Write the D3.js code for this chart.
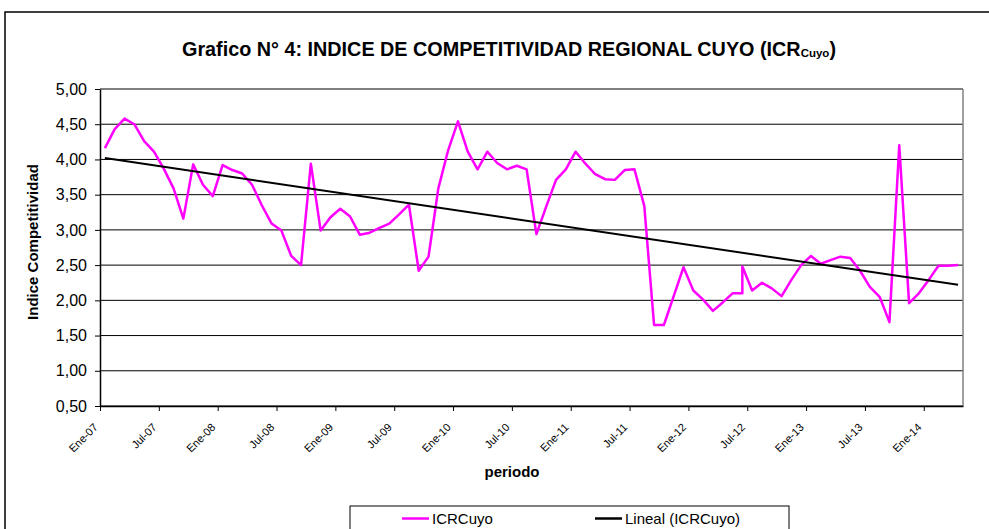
<!DOCTYPE html>
<html>
<head>
<meta charset="utf-8">
<script src="https://cdn.jsdelivr.net/npm/d3@7"></script>
<style>
body { margin: 0; background: #fff; }
svg { display: block; font-family: "Liberation Sans", Arial, sans-serif; }
</style>
</head>
<body>
<div class="chart-cuyo"></div>
<script>
// monthly periods (Jun-12 appears twice in the source series)
const periods = [
'Ene-07','Feb-07','Mar-07','Abr-07','May-07','Jun-07','Jul-07','Ago-07','Sep-07','Oct-07','Nov-07','Dic-07',
'Ene-08','Feb-08','Mar-08','Abr-08','May-08','Jun-08','Jul-08','Ago-08','Sep-08','Oct-08','Nov-08','Dic-08',
'Ene-09','Feb-09','Mar-09','Abr-09','May-09','Jun-09','Jul-09','Ago-09','Sep-09','Oct-09','Nov-09','Dic-09',
'Ene-10','Feb-10','Mar-10','Abr-10','May-10','Jun-10','Jul-10','Ago-10','Sep-10','Oct-10','Nov-10','Dic-10',
'Ene-11','Feb-11','Mar-11','Abr-11','May-11','Jun-11','Jul-11','Ago-11','Sep-11','Oct-11','Nov-11','Dic-11',
'Ene-12','Feb-12','Mar-12','Abr-12','May-12','Jun-12','Jun-12','Jul-12','Ago-12','Sep-12','Oct-12','Nov-12','Dic-12',
'Ene-13','Feb-13','Mar-13','Abr-13','May-13','Jun-13','Jul-13','Ago-13','Sep-13','Oct-13','Nov-13','Dic-13',
'Ene-14','Feb-14','Mar-14','Abr-14'
];

const icrCuyo = [
4.16, 4.43, 4.58, 4.50, 4.26, 4.11, 3.87, 3.59, 3.16, 3.93, 3.64, 3.48,
3.92, 3.85, 3.80, 3.64, 3.35, 3.09, 2.99, 2.63, 2.50, 3.94, 2.99, 3.18,
3.30, 3.19, 2.93, 2.96, 3.03, 3.09, 3.22, 3.36, 2.42, 2.62, 3.59, 4.13,
4.54, 4.11, 3.86, 4.11, 3.95, 3.86, 3.91, 3.86, 2.94, 3.33, 3.71, 3.86,
4.11, 3.94, 3.79, 3.72, 3.71, 3.85, 3.86, 3.34, 1.65, 1.65, 2.06, 2.47,
2.14, 2.01, 1.85, 1.97, 2.10, 2.10, 2.48, 2.14, 2.25, 2.17, 2.06, 2.29, 2.50,
2.63, 2.52, 2.57, 2.62, 2.60, 2.42, 2.19, 2.05, 1.69, 4.20, 1.96, 2.10,
2.29, 2.49, 2.49, 2.50
];

// linear trend, value at first and last period
const trendValues = [4.02, 2.22];

const xTickLabels = ['Ene-07','Jul-07','Ene-08','Jul-08','Ene-09','Jul-09','Ene-10','Jul-10',
  'Ene-11','Jul-11','Ene-12','Jul-12','Ene-13','Jul-13','Ene-14'];
const yTicks = [0.5, 1, 1.5, 2, 2.5, 3, 3.5, 4, 4.5, 5];
const seriesNames = ['ICRCuyo', 'Lineal (ICRCuyo)'];

const monthNames = ['Ene','Feb','Mar','Abr','May','Jun','Jul','Ago','Sep','Oct','Nov','Dic'];
const monthIndex = p => {
  const [m, y] = p.split('-');
  return (+y - 7) * 12 + monthNames.indexOf(m);
};

const data = periods.map((p, i) => ({m: monthIndex(p), value: icrCuyo[i]}));

const width = 989, height = 529;
const plot = {left: 100, right: 963, top: 89, bottom: 406};

let svg = d3.select('.chart-cuyo')
  .append('svg')
    .attr('width', width)
    .attr('height', height);

// outer chart border
svg.append('rect')
  .attr('x', 5).attr('y', 12)
  .attr('width', 1000).attr('height', 600)
  .attr('fill', '#fff')
  .attr('stroke', '#000')
  .attr('stroke-width', 1.5);

let xScale = d3.scaleLinear()
  .domain([0, d3.max(data, d => d.m) + 1])
  .range([plot.left, plot.right]);
let yScale = d3.scaleLinear()
  .domain([0.5, 5])
  .range([plot.bottom, plot.top]);

const fmt = d3.formatLocale({decimal: ',', thousands: '.', grouping: [3], currency: ['$', '']}).format('.2f');

// gridlines
svg.append('g')
  .selectAll('line')
  .data(yTicks)
  .join('line')
    .attr('x1', plot.left).attr('x2', plot.right)
    .attr('y1', d => yScale(d)).attr('y2', d => yScale(d))
    .attr('stroke', '#000')
    .attr('stroke-width', 1);

// right plot border
svg.append('line')
  .attr('x1', plot.right).attr('x2', plot.right)
  .attr('y1', plot.top).attr('y2', plot.bottom)
  .attr('stroke', '#808080')
  .attr('stroke-width', 1.5);

let yAxis = g => g
  .attr('transform', `translate(${plot.left},0)`)
  .call(d3.axisLeft(yScale).tickValues(yTicks).tickFormat(fmt).tickSize(5).tickSizeOuter(0))
  .call(g => g.select('.domain').attr('stroke', '#000').attr('stroke-width', 1.5))
  .call(g => g.selectAll('.tick line').attr('stroke', '#000'))
  .call(g => g.selectAll('text')
    .attr('x', -13)
    .attr('fill', '#000')
    .style('font-size', '16px')
    .style('font-family', '"Liberation Sans", Arial, sans-serif'));

let xAxis = g => g
  .attr('transform', `translate(0,${plot.bottom})`)
  .call(d3.axisBottom(xScale)
    .tickValues(xTickLabels.map((d, i) => i * 6))
    .tickFormat((d, i) => xTickLabels[i])
    .tickSize(5).tickSizeOuter(0))
  .call(g => g.select('.domain').attr('stroke', '#000').attr('stroke-width', 1.5))
  .call(g => g.selectAll('.tick line').attr('stroke', '#000'))
  .call(g => g.selectAll('text')
    .attr('x', 0).attr('y', 0).attr('dy', null)
    .attr('transform', 'translate(-2,22) rotate(-45)')
    .style('text-anchor', 'end')
    .attr('fill', '#000')
    .style('font-size', '11px')
    .style('font-family', '"Liberation Sans", Arial, sans-serif'));

svg.append('g').call(xAxis);
svg.append('g').call(yAxis);

// series line
let valueline = d3.line()
  .x(d => xScale(d.m + 0.5))
  .y(d => yScale(d.value));

svg.append('path')
  .datum(data)
  .attr('fill', 'none')
  .attr('stroke', '#ff00ff')
  .attr('stroke-width', 2.5)
  .attr('stroke-linejoin', 'round')
  .attr('d', valueline);

// linear trend
const trendData = [
  {m: data[0].m, value: trendValues[0]},
  {m: data[data.length - 1].m, value: trendValues[1]}
];
svg.append('path')
  .datum(trendData)
  .attr('fill', 'none')
  .attr('stroke', '#000')
  .attr('stroke-width', 2)
  .attr('d', valueline);

// title
let title = svg.append('text')
  .attr('x', 509).attr('y', 56)
  .attr('text-anchor', 'middle')
  .style('font-weight', 'bold')
  .style('font-size', '19.8px');
title.append('tspan').text('Grafico N° 4: INDICE DE COMPETITIVIDAD REGIONAL CUYO (ICR');
title.append('tspan').attr('dy', 1).style('font-size', '11.5px').text('Cuyo');
title.append('tspan').attr('dy', -1).text(')');

// axis titles
svg.append('text')
  .attr('transform', 'translate(38,242) rotate(-90)')
  .attr('text-anchor', 'middle')
  .style('font-weight', 'bold')
  .style('font-size', '15px')
  .text('Indice Competitividad');

svg.append('text')
  .attr('x', 512).attr('y', 477)
  .attr('text-anchor', 'middle')
  .style('font-weight', 'bold')
  .style('font-size', '15px')
  .text('periodo');

// legend
let legend = svg.append('g');
legend.append('rect')
  .attr('x', 350).attr('y', 506)
  .attr('width', 439).attr('height', 40)
  .attr('fill', '#fff')
  .attr('stroke', '#000')
  .attr('stroke-width', 1);

const legendItems = [
  {name: seriesNames[0], color: '#ff00ff', x: 402},
  {name: seriesNames[1], color: '#000', x: 595}
];
legendItems.forEach(d => {
  legend.append('line')
    .attr('x1', d.x).attr('x2', d.x + 27)
    .attr('y1', 518.5).attr('y2', 518.5)
    .attr('stroke', d.color)
    .attr('stroke-width', 2.5);
  legend.append('text')
    .attr('x', d.x + 30).attr('y', 524)
    .style('font-size', '15px')
    .text(d.name);
});
</script>
</body>
</html>
